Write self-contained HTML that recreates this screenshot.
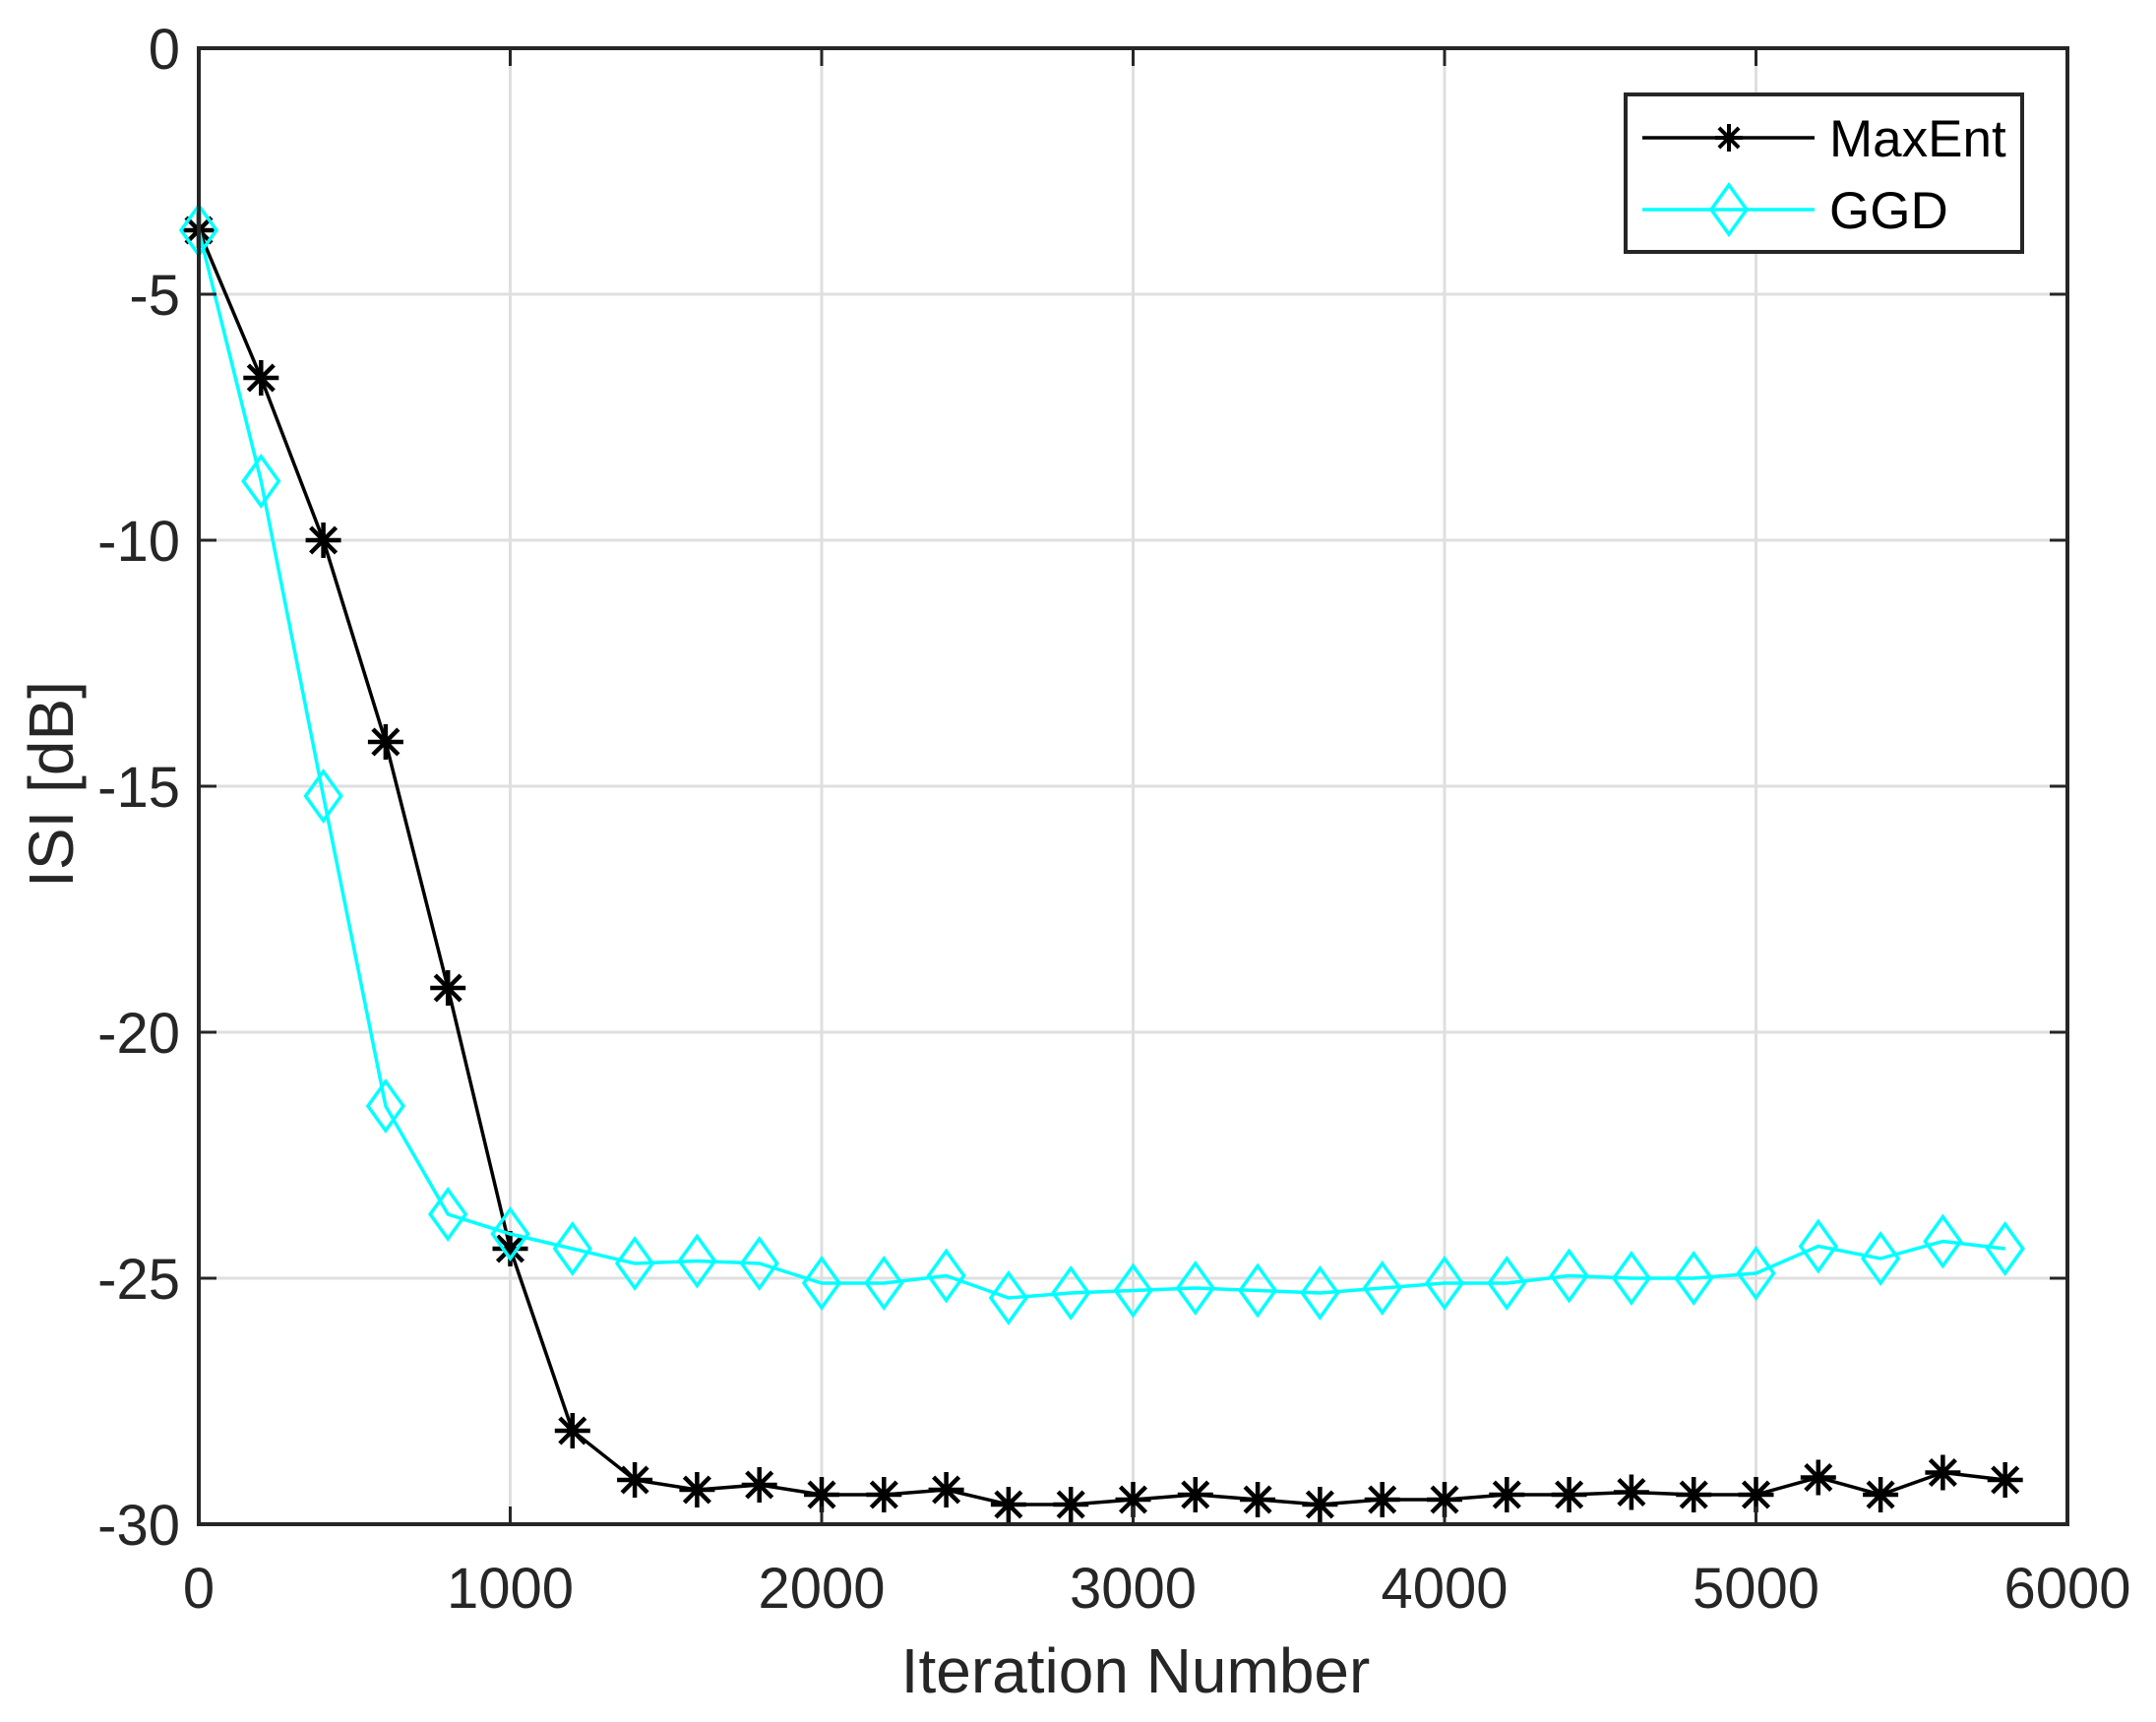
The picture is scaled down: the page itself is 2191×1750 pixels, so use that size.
<!DOCTYPE html>
<html><head><meta charset="utf-8"><style>html,body{margin:0;padding:0;background:#fff}</style></head>
<body>
<svg id="s" width="2191" height="1745" xmlns="http://www.w3.org/2000/svg" font-family="Liberation Sans, sans-serif">
<rect width="2191" height="1745" fill="#fff"/>
<g id="grid" stroke="#dfdfdf" stroke-width="3"></g>
<g id="series"></g>
<rect x="202" y="49" width="1899" height="1500" fill="none" stroke="#262626" stroke-width="4"/>
<g id="ticks" stroke="#262626" stroke-width="3"></g>
<g id="labels" fill="#262626" font-size="58"></g>
<text x="1154" y="1720" font-size="64" fill="#262626" text-anchor="middle">Iteration Number</text>
<text transform="translate(74,797) rotate(-90)" font-size="64" fill="#262626" text-anchor="middle">ISI [dB]</text>
<rect x="1652" y="96" width="403" height="160" fill="#fff" stroke="#262626" stroke-width="4"/>
<line x1="1669" y1="140" x2="1844" y2="140" stroke="#000" stroke-width="3.5"/>
<line x1="1669" y1="213" x2="1844" y2="213" stroke="#00ffff" stroke-width="3.5"/>
<g id="leg"></g>
<text x="1859" y="159" font-size="53" fill="#000">MaxEnt</text>
<text x="1859" y="232" font-size="53" fill="#000">GGD</text>
</svg>
<script>
var NS="http://www.w3.org/2000/svg";
function el(p,t,a){var e=document.createElementNS(NS,t);for(var k in a)e.setAttribute(k,a[k]);p.appendChild(e);return e;}
var X=function(v){return 202+v*1899/6000;},Y=function(v){return 49-v*50;};
var g=document.getElementById('grid'),tk=document.getElementById('ticks'),lb=document.getElementById('labels');
for(var i=1;i<6;i++){var x=X(i*1000);el(g,'line',{x1:x,y1:49,x2:x,y2:1549});}
for(var i=1;i<6;i++){var y=Y(-5*i);el(g,'line',{x1:202,y1:y,x2:2101,y2:y});}
for(var i=0;i<=6;i++){var x=X(i*1000);el(tk,'line',{x1:x,y1:1549,x2:x,y2:1531});el(tk,'line',{x1:x,y1:49,x2:x,y2:67});
var t=el(lb,'text',{x:x,y:1634,'text-anchor':'middle'});t.textContent=String(i*1000);}
for(var i=0;i<=6;i++){var y=Y(-5*i);el(tk,'line',{x1:202,y1:y,x2:220,y2:y});el(tk,'line',{x1:2101,y1:y,x2:2083,y2:y});
var t=el(lb,'text',{x:183,y:y+21,'text-anchor':'end'});t.textContent=i?String(-5*i):'0';}
var M=[-3.7,-6.7,-10,-14.1,-19.1,-24.4,-28.1,-29.1,-29.3,-29.2,-29.4,-29.4,-29.3,-29.6,-29.6,-29.5,-29.4,-29.5,-29.6,-29.5,-29.5,-29.4,-29.4,-29.35,-29.4,-29.4,-29.05,-29.4,-28.95,-29.1];
var G=[-3.7,-8.8,-15.2,-21.5,-23.7,-24.1,-24.4,-24.7,-24.65,-24.7,-25.1,-25.1,-24.95,-25.4,-25.3,-25.25,-25.2,-25.25,-25.3,-25.2,-25.1,-25.1,-24.95,-25.0,-25.0,-24.9,-24.35,-24.6,-24.25,-24.4];
var s=document.getElementById('series');
function star(p,x,y,r,w){var d='';d+='M'+(x-r)+' '+y+'H'+(x+r)+'M'+x+' '+(y-r)+'V'+(y+r);var q=r*0.72;d+='M'+(x-q)+' '+(y-q)+'L'+(x+q)+' '+(y+q)+'M'+(x-q)+' '+(y+q)+'L'+(x+q)+' '+(y-q);el(p,'path',{d:d,stroke:'#000','stroke-width':w,fill:'none'});}
function dia(p,x,y){el(p,'path',{d:'M'+x+' '+(y-25)+'L'+(x+18)+' '+y+'L'+x+' '+(y+25)+'L'+(x-18)+' '+y+'Z',stroke:'#00ffff','stroke-width':3.5,fill:'none'});}
function pts(a){return a.map(function(v,i){return X(i*200)+','+Y(v);}).join(' ');}
el(s,'polyline',{points:pts(M),fill:'none',stroke:'#000','stroke-width':3.5});
M.forEach(function(v,i){star(s,X(i*200),Y(v),18,4.5);});
el(s,'polyline',{points:pts(G),fill:'none',stroke:'#00ffff','stroke-width':3.5});
G.forEach(function(v,i){dia(s,X(i*200),Y(v));});
var L=document.getElementById('leg');star(L,1757,140,14,4);dia(L,1757,213);
</script>
</body></html>
